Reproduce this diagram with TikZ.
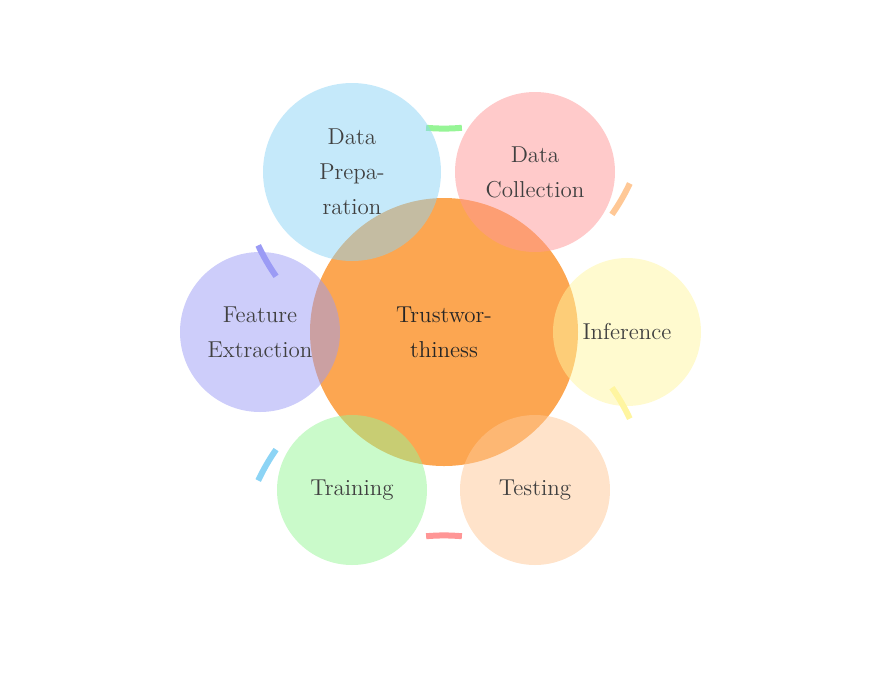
\documentclass[tikz,border=0pt]{standalone}
\begin{document}
\begin{tikzpicture}[x=0.5pt,y=-0.5pt,
  sat/.style={circle,fill opacity=0.5,text opacity=1,text=black!75,align=center,inner sep=0pt,font=\fontsize{11.5}{17.5}\selectfont},
  arcl/.style={line width=3pt}]
\definecolor{cDP}{RGB}{140,212,245}
\definecolor{cDC}{RGB}{255,150,150}
\definecolor{cIN}{RGB}{255,245,160}
\definecolor{cTE}{RGB}{255,200,150}
\definecolor{cTR}{RGB}{150,245,150}
\definecolor{cFE}{RGB}{155,155,245}
\definecolor{cC}{RGB}{252,150,50}
\useasboundingbox (0,0) rectangle (895,692);
\coordinate (o) at (444,332);
% arcs
\foreach \a/\c in {90/cDC,30/cIN,-30/cTE,-90/cTR,-150/cFE,150/cDP}
  \draw[arcl,\c] ([shift={(\a-5:205)}]o) arc[start angle=-\a+5,end angle=-\a-5,radius=205];
\node[circle,fill=cC,fill opacity=0.85,text opacity=1,minimum size=268pt*0.5,inner sep=0pt,align=center,text=black!85,font=\fontsize{11.5}{17.5}\selectfont] (c) at (o) {Trustwor-\\thiness};
\node[sat,fill=cDP,minimum size=178pt*0.5] (dp) at (352,172) {Data\\Prepa-\\ration};
\node[sat,fill=cDC,minimum size=160pt*0.5] (dc) at (535,172) {Data\\Collection};
\node[sat,fill=cIN,minimum size=148pt*0.5] (in) at (627,332) {Inference};
\node[sat,fill=cTE,minimum size=150pt*0.5] (te) at (535,490) {Testing};
\node[sat,fill=cTR,minimum size=150pt*0.5] (tr) at (352,490) {Training};
\node[sat,fill=cFE,minimum size=160pt*0.5] (fe) at (260,332) {Feature\\Extraction};
\end{tikzpicture}
\end{document}
